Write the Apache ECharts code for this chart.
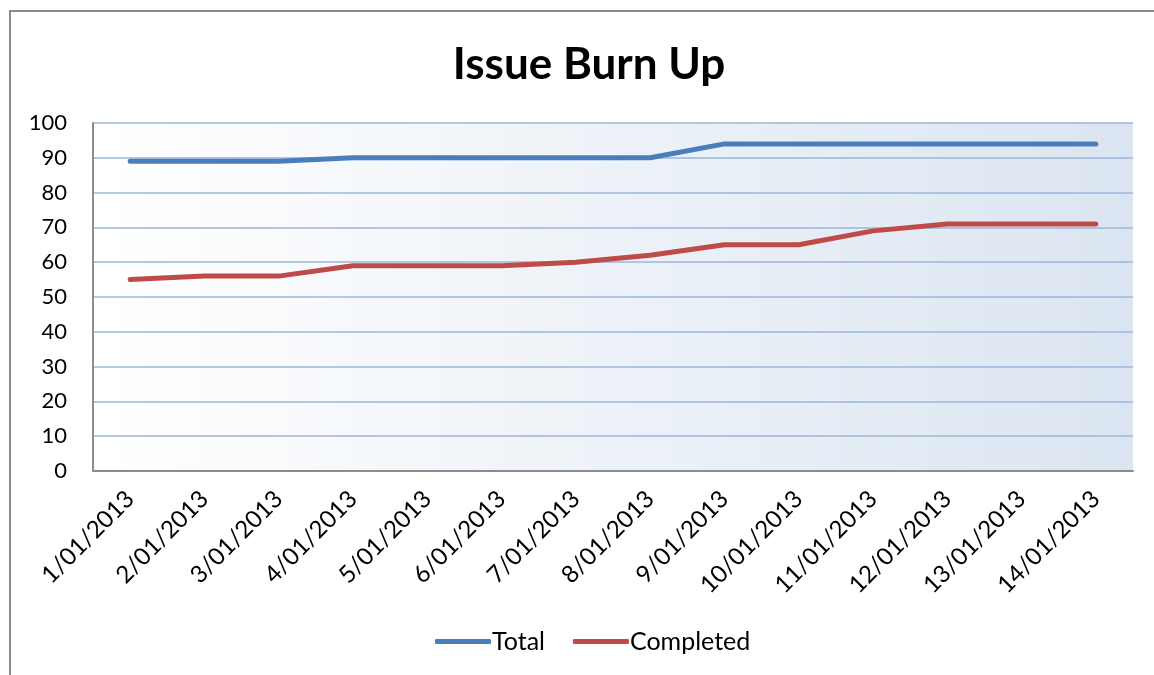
<!DOCTYPE html>
<html>
<head>
<meta charset="utf-8">
<script src="https://cdn.jsdelivr.net/npm/echarts@6/dist/echarts.min.js"></script>
<style>
html,body{margin:0;padding:0;background:#fff;}
#c{width:1154px;height:675px;}
</style>
</head>
<body>
<div id="c"></div>
<script>
const categories = ['1/01/2013','2/01/2013','3/01/2013','4/01/2013','5/01/2013','6/01/2013','7/01/2013','8/01/2013','9/01/2013','10/01/2013','11/01/2013','12/01/2013','13/01/2013','14/01/2013'];
const totalValues = [89, 89, 89, 90, 90, 90, 90, 90, 94, 94, 94, 94, 94, 94];
const completedValues = [55, 56, 56, 59, 59, 59, 60, 62, 65, 65, 69, 71, 71, 71];
const seriesNames = ['Total', 'Completed'];
const FONT = 'Lato';

const chart = echarts.init(document.getElementById('c'));
chart.setOption({
  backgroundColor: '#ffffff',
  animation: false,
  title: {
    text: 'Issue Burn Up',
    left: 584, textAlign: 'center',
    top: 38,
    textStyle: { fontFamily: FONT, fontSize: 44, fontWeight: 'bold', color: '#000' }
  },
  graphic: [{
    type: 'rect',
    shape: { x: 10, y: 11, width: 1400, height: 1000 },
    style: { fill: 'none', stroke: '#8a8a8a', lineWidth: 2 },
    silent: true, z: 100
  }],
  legend: {
    bottom: 16,
    left: 430,
    itemWidth: 56,
    itemHeight: 5,
    itemGap: 28,
    icon: 'roundRect',
    textStyle: { fontFamily: FONT, fontSize: 25, color: '#000', padding: [0,0,0,-4] },
    data: seriesNames
  },
  grid: {
    left: 93, right: 21, top: 123, bottom: 204,
    show: true,
    borderWidth: 0,
    backgroundColor: new echarts.graphic.LinearGradient(0, 0, 1, 0, [
      { offset: 0, color: '#ffffff' },
      { offset: 1, color: '#dbe5f1' }
    ])
  },
  xAxis: {
    type: 'category',
    data: categories,
    boundaryGap: true,
    axisLine: { lineStyle: { color: '#8c8c8c', width: 2 } },
    axisTick: { show: false },
    axisLabel: { rotate: 45, fontFamily: FONT, fontSize: 24, color: '#000', margin: 24, interval: 0 }
  },
  yAxis: {
    type: 'value',
    min: 0, max: 100, interval: 10,
    axisLine: { show: true, lineStyle: { color: '#8c8c8c', width: 2 } },
    axisTick: { show: false },
    axisLabel: { fontFamily: FONT, fontSize: 22, color: '#000', margin: 26 },
    splitLine: { lineStyle: { color: '#9db6d8', width: 1.5 } }
  },
  series: [
    {
      name: seriesNames[0], type: 'line', data: totalValues,
      showSymbol: false, symbol: 'none',
      lineStyle: { color: '#4a7ebb', width: 5, cap: 'round', join: 'round' },
      itemStyle: { color: '#4a7ebb' }
    },
    {
      name: seriesNames[1], type: 'line', data: completedValues,
      showSymbol: false, symbol: 'none',
      lineStyle: { color: '#be4b48', width: 5, cap: 'round', join: 'round' },
      itemStyle: { color: '#be4b48' }
    }
  ]
});
</script>
</body>
</html>
